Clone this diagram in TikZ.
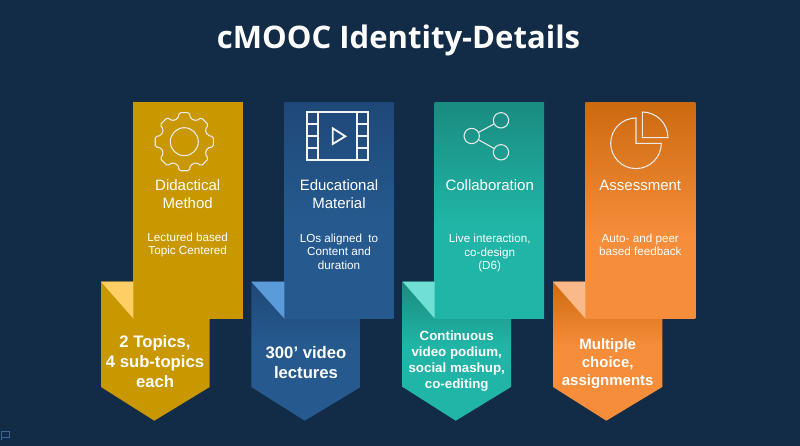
\documentclass[tikz,border=0pt]{standalone}
\usepackage{fontspec}
\setmainfont{Liberation Sans}
\newfontfamily\titlefont{Open Sans}
\usepackage{xcolor}
\usetikzlibrary{positioning}

\definecolor{bgnavy}{HTML}{122B47}
\definecolor{goldbody}{HTML}{C99700}
\definecolor{goldfold}{HTML}{FFCF66}
\definecolor{bluetop}{HTML}{1F4878}
\definecolor{bluelow}{HTML}{265A8E}
\definecolor{bluefold}{HTML}{5B9BD9}
\definecolor{tealtop}{HTML}{1A8B80}
\definecolor{teallow}{HTML}{20B5A6}
\definecolor{tealfold}{HTML}{70E0D4}
\definecolor{orangetop}{HTML}{CC6A10}
\definecolor{orangelow}{HTML}{F58D3A}
\definecolor{orangefold}{HTML}{F9B988}

% 25bp is the bottom of the shape and 75bp its top
\pgfdeclareverticalshading{blueup}{100bp}{color(0bp)=(bluelow); color(47bp)=(bluelow); color(75bp)=(bluetop); color(100bp)=(bluetop)}
\pgfdeclareverticalshading{tealup}{100bp}{color(0bp)=(teallow); color(47bp)=(teallow); color(75bp)=(tealtop); color(100bp)=(tealtop)}
\pgfdeclareverticalshading{orangeup}{100bp}{color(0bp)=(orangelow); color(44bp)=(orangelow); color(75bp)=(orangetop); color(100bp)=(orangetop)}
\pgfdeclareverticalshading{bluedown}{100bp}{color(0bp)=(bluelow); color(52bp)=(bluelow); color(75bp)=(bluetop); color(100bp)=(bluetop)}
\pgfdeclareverticalshading{tealdown}{100bp}{color(0bp)=(teallow); color(52bp)=(teallow); color(75bp)=(tealtop); color(100bp)=(tealtop)}
\pgfdeclareverticalshading{orangedown}{100bp}{color(0bp)=(orangelow); color(52bp)=(orangelow); color(75bp)=(orangetop); color(100bp)=(orangetop)}

\tikzset{
	headtext/.style={text=white,align=center,inner sep=0.75pt,font=\fontsize{11.25}{13.3}\selectfont},
	smalltext/.style={text=white,align=center,inner sep=0.75pt,font=\fontsize{8.75}{10.2}\selectfont},
	boldtext/.style={text=white,align=center,inner sep=0.75pt,font=\bfseries\fontsize{12.5}{15}\selectfont},
	iconline/.style={draw=white!92!black,line width=0.8pt,fill=none},
	filmline/.style={draw=white!95!black,line width=1.4pt,fill=none},
	sharedot/.style={circle,draw=white!92!black,line width=0.8pt,minimum size=11.5pt,inner sep=0pt},
}

\begin{document}
\begin{tikzpicture}[x=0.75pt,y=0.75pt,yscale=-1,xscale=1]
	\useasboundingbox (0,0) rectangle (800,446);
	\fill[bgnavy] (0,0) rectangle (800,446);

	% Text Node
	\draw (398.5,40.5) node (title) [text=white,inner sep=0.75pt,font=\titlefont\bfseries\fontsize{23.3}{28}\selectfont] {cMOOC Identity-Details};

	% Lower Pennants
	\fill[goldbody] (101,281.7) -- (209.7,281.7) -- (209.7,387) -- (154.3,420.7) -- (101,387) -- cycle;
	\shade[shading=bluedown] (251.3,281.7) -- (360.7,281.7) -- (360.7,387) -- (304.7,420.7) -- (251.3,387) -- cycle;
	\shade[shading=tealdown] (402.7,281.7) -- (511,281.7) -- (511,387) -- (455.7,420.7) -- (402.7,387) -- cycle;
	\shade[shading=orangedown] (553,281.7) -- (662.3,281.7) -- (662.3,387) -- (606.3,420.7) -- (553,387) -- cycle;

	% Upper Panels
	\fill[goldbody] (133.3,102) rectangle (242.7,318.5);
	\shade[shading=blueup] (284.3,102) rectangle (393.7,318.5);
	\shade[shading=tealup] (434.7,102) rectangle (544,318.5);
	\shade[shading=orangeup] (585.3,102) rectangle (695.3,318.5);

	% Folds
	\fill[goldfold] (101,281.7) -- (133.3,281.7) -- (133.3,318.5) -- cycle;
	\fill[bluefold] (251.3,281.7) -- (284.3,281.7) -- (284.3,318.5) -- cycle;
	\fill[tealfold] (402.7,281.7) -- (434.7,281.7) -- (434.7,318.5) -- cycle;
	\fill[orangefold] (553,281.7) -- (585.3,281.7) -- (585.3,318.5) -- cycle;

	% Gear Icon
	\begin{scope}[shift={(184.3,141.7)}]
		\draw[iconline,rounded corners=1.2pt] (-15:24)
			\foreach \ang in {0,45,...,315} {
				-- ({\ang-15}:24) -- ({\ang-10}:29.5) -- ({\ang+10}:29.5) -- ({\ang+15}:24)
			} -- cycle;
		\draw[iconline] (0,0) circle (14);
	\end{scope}

	% Film Icon
	\draw[filmline] (306.7,112) rectangle (367.7,160.3);
	\draw[filmline] (318.3,112) -- (318.3,160.3);
	\draw[filmline] (356.7,112) -- (356.7,160.3);
	\draw[filmline] (306.7,124.3) -- (318.3,124.3);
	\draw[filmline] (306.7,136.3) -- (318.3,136.3);
	\draw[filmline] (306.7,148.3) -- (318.3,148.3);
	\draw[filmline] (356.7,124.3) -- (367.7,124.3);
	\draw[filmline] (356.7,136.3) -- (367.7,136.3);
	\draw[filmline] (356.7,148.3) -- (367.7,148.3);
	\draw[filmline] (332.7,128.3) -- (345.3,136.3) -- (332.7,144) -- cycle;

	% Share Icon
	\draw (501,120.3) node (shareup) [sharedot] {};
	\draw (471.7,136) node (sharemid) [sharedot] {};
	\draw (501,152.3) node (sharelow) [sharedot] {};
	% Connection
	\draw[iconline] (sharemid) -- (shareup);
	% Connection
	\draw[iconline] (sharemid) -- (sharelow);

	% Pie Icon
	\draw[iconline] (636,143.3) -- (636,118) arc[start angle=-90,end angle=-360,radius=25.3] -- cycle;
	\draw[iconline] (642.3,137.7) -- (642.3,112) arc[start angle=-90,end angle=0,radius=25.7] -- cycle;

	% Small Flag Mark
	\draw[draw=bluefold!55!bgnavy,line width=0.6pt] (1,440) -- (1,431) -- (9.5,431) -- (9.5,437) -- (1,437);

	% Text Node
	\draw (187.7,193.8) node (headgold) [headtext] {Didactical\\Method};
	% Text Node
	\draw (339,193.8) node (headblue) [headtext] {Educational\\Material};
	% Text Node
	\draw (489.7,185) node (headteal) [headtext] {Collaboration};
	% Text Node
	\draw (640.3,185) node (headorange) [headtext] {Assessment};
	% Text Node
	\draw (187.7,244.8) node (notegold) [smalltext] {Lectured based\\Topic Centered};
	% Text Node
	\draw (339,251.5) node (noteblue) [smalltext] {LOs aligned\ \ to\\Content and\\duration};
	% Text Node
	\draw (489.7,253.3) node (noteteal) [smalltext] {Live interaction,\\co-design\\(D6)};
	% Text Node
	\draw (640.3,244.8) node (noteorange) [smalltext] {Auto- and peer\\based feedback};
	% Text Node
	\draw (155,362) node (boldgold) [boldtext] {2 Topics,\\4 sub-topics\\each};
	% Text Node
	\draw (306,362.7) node (boldblue) [boldtext] {300’ video\\lectures};
	% Text Node
	\draw (456.7,361) node (boldteal) [boldtext,font=\bfseries\fontsize{10}{12}\selectfont] {Continuous\\video podium,\\social mashup,\\co-editing};
	% Text Node
	\draw (607.7,363.6) node (boldorange) [boldtext,font=\bfseries\fontsize{11.25}{13.3}\selectfont] {Multiple\\choice,\\assignments};
\end{tikzpicture}
\end{document}
